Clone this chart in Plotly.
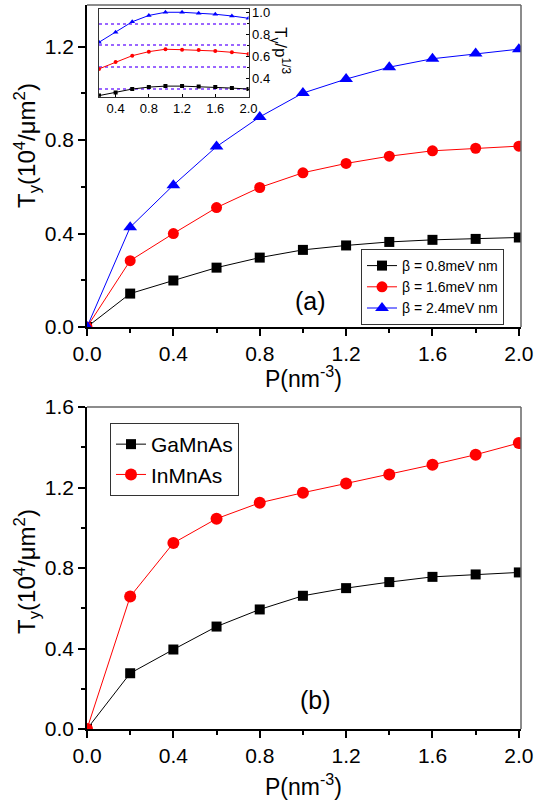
import plotly.graph_objects as go

# ---- data -------------------------------------------------------------
P = [0.0, 0.2, 0.4, 0.6, 0.8, 1.0, 1.2, 1.4, 1.6, 1.8, 2.0]

# panel (a): T_y for three values of beta
Ty_beta08 = [0.0, 0.143, 0.199, 0.254, 0.297, 0.330, 0.349, 0.364, 0.373, 0.377, 0.383]
Ty_beta16 = [0.0, 0.284, 0.400, 0.511, 0.597, 0.660, 0.700, 0.731, 0.754, 0.765, 0.774]
Ty_beta24 = [0.0, 0.427, 0.607, 0.772, 0.899, 1.001, 1.061, 1.112, 1.148, 1.170, 1.189]

# inset of panel (a): T_y / p^(1/3)
P_inset = [0.2, 0.4, 0.6, 0.8, 1.0, 1.2, 1.4, 1.6, 1.8, 2.0]
ratio_beta08 = [0.240, 0.268, 0.300, 0.318, 0.327, 0.327, 0.323, 0.318, 0.309, 0.300]
ratio_beta16 = [0.485, 0.549, 0.606, 0.643, 0.665, 0.661, 0.658, 0.649, 0.637, 0.622]
ratio_beta24 = [0.729, 0.820, 0.917, 0.975, 1.004, 1.004, 0.995, 0.986, 0.970, 0.949]
inset_grid = [0.3, 0.5, 0.7, 0.9]

# panel (b): two materials
Ty_GaMnAs = [0.0, 0.277, 0.395, 0.509, 0.594, 0.662, 0.700, 0.730, 0.756, 0.768, 0.778]
Ty_InMnAs = [0.0, 0.658, 0.924, 1.045, 1.124, 1.174, 1.220, 1.265, 1.313, 1.363, 1.421]

labels_a = ["β = 0.8meV nm", "β = 1.6meV nm", "β = 2.4meV nm"]
labels_b = ["GaMnAs", "InMnAs"]

# ---- style ------------------------------------------------------------
FONT = "Liberation Sans, Arial, sans-serif"
BLACK, RED, BLUE = "#000000", "#ff0000", "#0000ff"
W, H = 535, 804


def px_x(v):
    return v / W


def px_y(v):
    return 1 - v / H


fig = go.Figure()

# panel (a) main curves
for y, name, col, sym, size in [
    (Ty_beta08, labels_a[0], BLACK, "square", 10),
    (Ty_beta16, labels_a[1], RED, "circle", 11),
    (Ty_beta24, labels_a[2], BLUE, "triangle-up", 12),
]:
    fig.add_trace(go.Scatter(
        x=P, y=y, name=name, mode="lines+markers",
        line=dict(color=col, width=1),
        marker=dict(symbol=sym, size=size, color=col),
        xaxis="x", yaxis="y", legend="legend",
    ))

# inset curves
for y, col, sym, size in [
    (ratio_beta08, BLACK, "square", 4),
    (ratio_beta16, RED, "circle", 4),
    (ratio_beta24, BLUE, "triangle-up", 5),
]:
    fig.add_trace(go.Scatter(
        x=P_inset, y=y, mode="lines+markers", showlegend=False,
        line=dict(color=col, width=1),
        marker=dict(symbol=sym, size=size, color=col),
        xaxis="x3", yaxis="y3",
    ))

# panel (b) curves
for y, name, col, sym, size in [
    (Ty_GaMnAs, labels_b[0], BLACK, "square", 10),
    (Ty_InMnAs, labels_b[1], RED, "circle", 12),
]:
    fig.add_trace(go.Scatter(
        x=P, y=y, name=name, mode="lines+markers",
        line=dict(color=col, width=1),
        marker=dict(symbol=sym, size=size, color=col),
        xaxis="x2", yaxis="y2", legend="legend2",
    ))

xdom = [px_x(87), px_x(521)]
tick_font = dict(family=FONT, size=21, color="black")
ytitle_font = dict(family=FONT, size=24, color="black")
xtitle_font = dict(family=FONT, size=23, color="black")
YTITLE = "T<sub>y</sub>(10<sup>4</sup>/μm<sup>2</sup>)"
XTITLE = "P(nm<sup>-3</sup>)"


def main_xaxis(anchor):
    return dict(
        domain=xdom, anchor=anchor, range=[0, 2.01], automargin=False,
        tick0=0, dtick=0.4, tickformat=".1f",
        ticks="outside", ticklen=7, tickwidth=1.5, tickcolor="black",
        minor=dict(dtick=0.2, ticks="outside", ticklen=4, tickwidth=1.5, tickcolor="black"),
        showline=True, linecolor="black", linewidth=1.5,
        showgrid=False, zeroline=False, tickfont=tick_font,
    )


def main_yaxis(anchor, dom, rng):
    return dict(
        domain=dom, anchor=anchor, range=rng, automargin=False,
        tick0=0, dtick=0.4, tickformat=".1f",
        ticks="outside", ticklen=7, tickwidth=1.5, tickcolor="black",
        minor=dict(dtick=0.2, ticks="outside", ticklen=4, tickwidth=1.5, tickcolor="black"),
        showline=True, linecolor="black", linewidth=1.5,
        showgrid=False, zeroline=False, tickfont=tick_font,
    )


inset_font = dict(family=FONT, size=13, color="black")

fig.update_layout(
    width=W, height=H,
    margin=dict(l=0, r=0, t=0, b=0),
    paper_bgcolor="white", plot_bgcolor="white",
    xaxis=main_xaxis("y"),
    yaxis=main_yaxis("x", [px_y(327), px_y(5)], [0, 1.378]),
    xaxis2=main_xaxis("y2"),
    yaxis2=main_yaxis("x2", [px_y(729), px_y(407)], [0, 1.6]),
    xaxis3=dict(
        domain=[px_x(99), px_x(248.5)], anchor="y3", range=[0.2, 2.0], automargin=False,
        tick0=0.4, dtick=0.4, tickformat=".1f",
        ticks="inside", ticklen=3, tickcolor="black",
        showline=True, mirror=True, linecolor="#333333", linewidth=1,
        showgrid=False, zeroline=False, tickfont=inset_font,
    ),
    yaxis3=dict(
        domain=[px_y(96.7), px_y(9)], anchor="x3", range=[0.23, 1.034], automargin=False,
        side="right", tick0=0.4, dtick=0.2, tickformat=".1f",
        ticks="inside", ticklen=3, tickcolor="black",
        minor=dict(tickmode="array", tickvals=inset_grid, showgrid=True, griddash="dot",
                   gridcolor="#9a66ff", gridwidth=1.5, ticks="inside", ticklen=2),
        showline=True, mirror=True, linecolor="#333333", linewidth=1,
        showgrid=False, zeroline=False, tickfont=inset_font,
    ),
    legend=dict(
        x=px_x(361), y=px_y(249), xanchor="left", yanchor="top",
        bgcolor="white", bordercolor="#333333", borderwidth=1,
        font=dict(family=FONT, size=14, color="black"),
        tracegroupgap=0, itemwidth=30,
    ),
    legend2=dict(
        x=px_x(110), y=px_y(423), xanchor="left", yanchor="top",
        bgcolor="white", bordercolor="#333333", borderwidth=1,
        font=dict(family=FONT, size=21, color="black"),
        tracegroupgap=0, itemwidth=30,
    ),
    showlegend=True,
)

# grey top/right frame of both main panels
for xr, yr in [("x domain", "y domain"), ("x2 domain", "y2 domain")]:
    fig.add_shape(type="line", xref=xr, yref=yr, x0=0, x1=1, y0=1, y1=1,
                  line=dict(color="#666666", width=1.5), layer="above")
    fig.add_shape(type="line", xref=xr, yref=yr, x0=1, x1=1, y0=0, y1=1,
                  line=dict(color="#666666", width=1.5), layer="above")


def label(xc, yc, text, font, angle=0):
    fig.add_annotation(x=px_x(xc), y=px_y(yc), xref="paper", yref="paper",
                       xanchor="center", yanchor="middle",
                       text=text, textangle=angle, showarrow=False, font=font)


# axis titles
for xc, yc in [(303, 377), (303, 785)]:
    label(xc, yc, XTITLE, xtitle_font)
for xc, yc in [(27, 146), (27, 572)]:
    label(xc, yc, YTITLE, ytitle_font, angle=-90)

# panel labels and inset axis title
panel_font = dict(family=FONT, size=25, color="black")
label(310, 301, "(a)", panel_font)
label(315, 700, "(b)", panel_font)
label(280, 50, "T<sub>y</sub>/p<sup>1/3</sup>", dict(family=FONT, size=17, color="black"), angle=90)

fig.write_html("out.html")
